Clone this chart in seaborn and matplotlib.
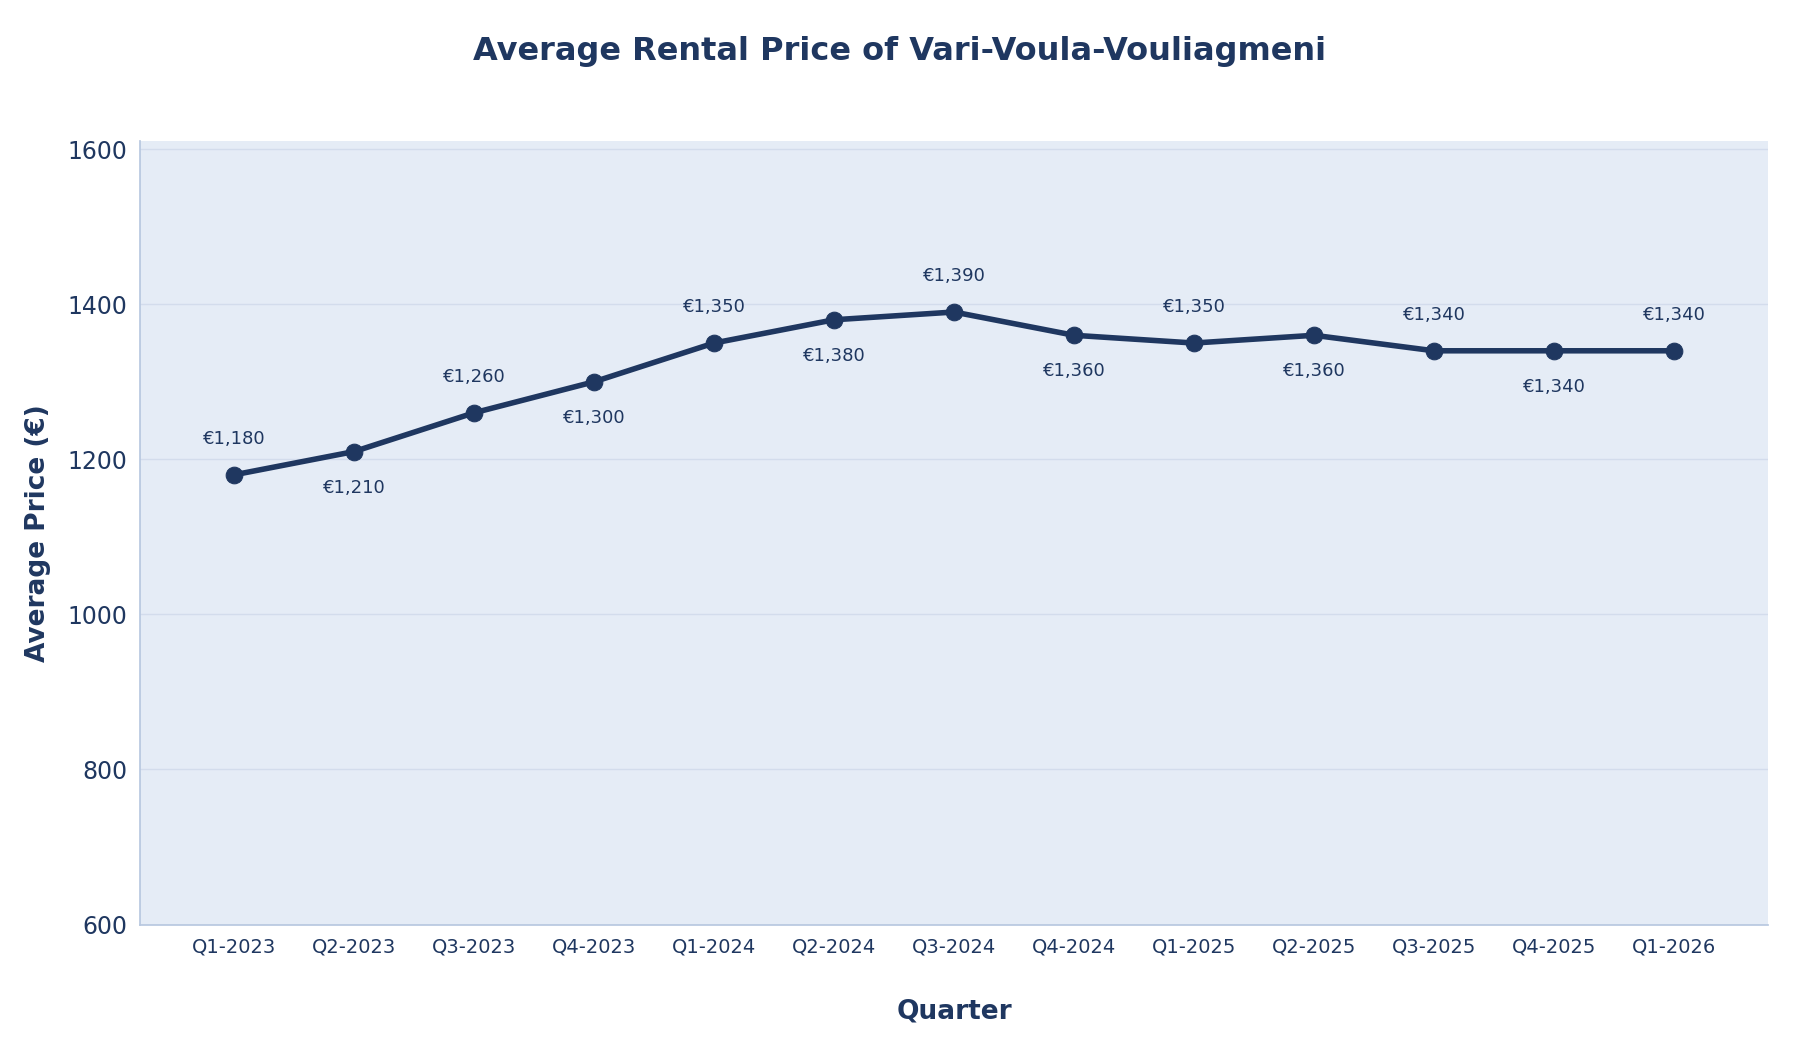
import matplotlib
matplotlib.use("Agg")
import matplotlib.pyplot as plt
import seaborn as sns
import pandas as pd

quarters = ["Q1-2023", "Q2-2023", "Q3-2023", "Q4-2023", "Q1-2024", "Q2-2024", "Q3-2024",
            "Q4-2024", "Q1-2025", "Q2-2025", "Q3-2025", "Q4-2025", "Q1-2026"]
prices = [1180, 1210, 1260, 1300, 1350, 1380, 1390, 1360, 1350, 1360, 1340, 1340, 1340]

df = pd.DataFrame({"pos": range(len(quarters)), "price": prices})
navy = "#1f3760"

sns.set_theme(style="white")
plt.rcParams["font.family"] = ["DejaVu Sans"]

fig = plt.figure(figsize=(18, 10.4), dpi=100)
ax = fig.add_axes([0.078, 0.111, 0.904, 0.753])
ax.set_facecolor("#e5ecf6")

sns.lineplot(data=df, x="pos", y="price", ax=ax, color=navy, linewidth=4,
             marker="o", markersize=12, markeredgecolor=navy)

for i, (p, v) in enumerate(zip(df["pos"], prices)):
    off = 26 if i % 2 == 0 else -26
    ax.annotate(f"€{v:,}", (p, v), xytext=(0, off), textcoords="offset points",
                ha="center", va="center", fontsize=13, color=navy)

ax.set_xlim(-0.78, 12.78)
ax.set_ylim(600, 1610)
ax.set_yticks(range(600, 1601, 200))
ax.set_xticks(range(len(quarters)))
ax.set_xticklabels(quarters, fontsize=14, color=navy)
ax.tick_params(axis="y", labelsize=17, labelcolor=navy)
ax.grid(axis="y", color="#d3dcec", linewidth=1)
for s in ["top", "right"]:
    ax.spines[s].set_visible(False)
for s in ["left", "bottom"]:
    ax.spines[s].set_color("#b8c8e0")

ax.set_xlabel("Quarter", fontsize=19, fontweight="heavy", color=navy, labelpad=30)
ax.set_ylabel("Average Price (€)", fontsize=19, fontweight="heavy", color=navy, labelpad=12)
fig.suptitle("Average Rental Price of Vari-Voula-Vouliagmeni", fontsize=23,
             fontweight="heavy", color=navy, y=0.965)

fig.savefig("out.png")
